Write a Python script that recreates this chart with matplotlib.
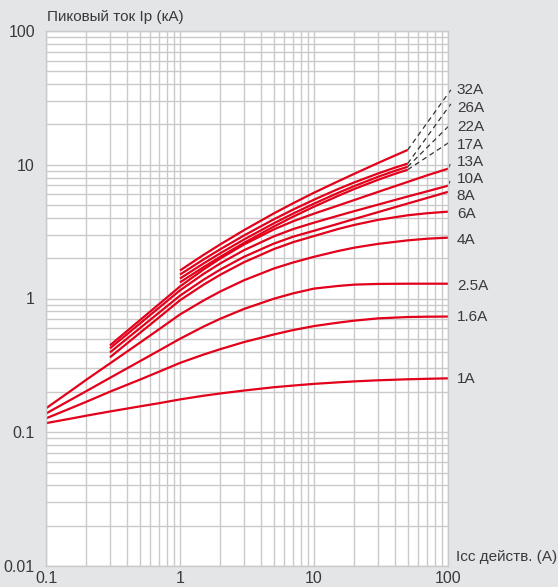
import matplotlib
matplotlib.use("Agg")
import matplotlib.pyplot as plt
from matplotlib.ticker import LogLocator, NullFormatter

plt.rcParams['font.family'] = ['Liberation Sans', 'DejaVu Sans']

# ---- data ----
x_full = [0.1, 0.15, 0.2, 0.3, 0.5, 0.7, 1, 1.5, 2, 3, 5, 7, 10, 15, 20, 30, 50, 70, 100]
x_mid = [0.3, 0.5, 0.7, 1, 1.5, 2, 3, 5, 7, 10, 15, 20, 30, 50, 70, 100]
x_high = [1, 1.5, 2, 3, 5, 7, 10, 15, 20, 30, 40, 50]

y_1A = [0.117, 0.126, 0.133, 0.143, 0.156, 0.165, 0.176, 0.1875, 0.195, 0.205, 0.217,
        0.2234, 0.230, 0.236, 0.240, 0.2446, 0.2489, 0.251, 0.253]
y_1_6A = [0.127, 0.150, 0.169, 0.201, 0.247, 0.284, 0.33, 0.381, 0.418, 0.472, 0.538,
          0.581, 0.622, 0.659, 0.683, 0.710, 0.727, 0.731, 0.733]
y_2_5A = [0.138, 0.173, 0.203, 0.255, 0.339, 0.409, 0.50, 0.617, 0.706, 0.835, 0.995,
          1.093, 1.186, 1.24, 1.27, 1.285, 1.29, 1.29, 1.29]
y_4A = [0.151, 0.201, 0.247, 0.327, 0.466, 0.590, 0.76, 0.967, 1.129, 1.368, 1.674,
        1.86, 2.05, 2.26, 2.40, 2.56, 2.72, 2.80, 2.85]

y_6A = [0.363, 0.551, 0.724, 0.97, 1.269, 1.506, 1.866, 2.338, 2.639, 2.93, 3.30,
        3.55, 3.87, 4.19, 4.34, 4.46]
y_8A = [0.395, 0.598, 0.786, 1.05, 1.382, 1.646, 2.048, 2.570, 2.90, 3.21, 3.61,
        3.93, 4.42, 5.13, 5.65, 6.27]
y_10A = [0.424, 0.647, 0.856, 1.15, 1.528, 1.830, 2.296, 2.911, 3.305, 3.69, 4.15,
         4.50, 5.03, 5.79, 6.33, 6.97]
y_13A = [0.446, 0.686, 0.910, 1.23, 1.649, 1.992, 2.532, 3.280, 3.784, 4.31, 4.94,
         5.45, 6.26, 7.44, 8.34, 9.34]

y_17A = [1.32, 1.717, 2.051, 2.603, 3.445, 4.093, 4.86, 5.83, 6.59, 7.71, 8.54, 9.18]
y_22A = [1.41, 1.829, 2.181, 2.76, 3.643, 4.318, 5.12, 6.14, 6.93, 8.12, 8.99, 9.66]
y_26A = [1.51, 1.96, 2.337, 2.958, 3.904, 4.627, 5.48, 6.56, 7.38, 8.60, 9.50, 10.2]
y_32A = [1.62, 2.12, 2.54, 3.24, 4.32, 5.16, 6.18, 7.49, 8.56, 10.3, 11.7, 12.9]

# dashed extensions (start point, end point)
dash_x = [[50, 105], [50, 105], [50, 105], [50, 104], [100, 105], [100, 105]]
dash_y = [[12.9, 36.3], [10.2, 28.5], [9.66, 20.2], [9.18, 14.9], [9.34, 10.3], [6.97, 7.86]]

labels = ['32A', '26A', '22A', '17A', '13A', '10A', '8A', '6A', '4A', '2.5A', '1.6A', '1A']
label_y = [36.0, 26.5, 19.3, 14.0, 10.4, 7.8, 5.8, 4.3, 2.75, 1.24, 0.73, 0.25]

x_ticks = [0.1, 1, 10, 100]
x_ticklabels = ['0.1', '1', '10', '100']
y_ticks = [0.01, 0.1, 1, 10, 100]
y_ticklabels = ['0.01', '0.1', '1', '10', '100']

# ---- figure ----
bg = '#e4e5e7'
red = '#e2001a'
txt = '#3a3a3a'
grid_c = '#cacaca'

fig = plt.figure(figsize=(5.58, 5.87), dpi=100, facecolor=bg)
ax = fig.add_axes([46 / 558, 21 / 587, 402 / 558, 535 / 587])
ax.set_facecolor('white')
ax.set_xscale('log')
ax.set_yscale('log')
ax.set_xlim(0.1, 100)
ax.set_ylim(0.01, 100)

ax.xaxis.set_minor_locator(LogLocator(base=10, subs=range(2, 10)))
ax.yaxis.set_minor_locator(LogLocator(base=10, subs=range(2, 10)))
ax.xaxis.set_minor_formatter(NullFormatter())
ax.yaxis.set_minor_formatter(NullFormatter())
ax.grid(True, which='both', color=grid_c, lw=1.0)
ax.set_axisbelow(True)
for s in ax.spines.values():
    s.set_color(grid_c)
    s.set_linewidth(1.0)

ax.set_xticks(x_ticks)
ax.set_xticklabels(x_ticklabels)
ax.set_yticks(y_ticks)
ax.set_yticklabels(y_ticklabels)
ax.tick_params(which='both', length=0, colors=txt, labelsize=11.5)
ax.tick_params(axis='x', pad=3.5)
ax.tick_params(axis='y', pad=8)

lw = 1.6
for ys in [y_1A, y_1_6A, y_2_5A, y_4A]:
    ax.plot(x_full, ys, color=red, lw=lw, solid_capstyle='butt', solid_joinstyle='round')
for ys in [y_6A, y_8A, y_10A, y_13A]:
    ax.plot(x_mid, ys, color=red, lw=lw, solid_capstyle='butt', solid_joinstyle='round')
for ys in [y_17A, y_22A, y_26A, y_32A]:
    ax.plot(x_high, ys, color=red, lw=lw, solid_capstyle='butt', solid_joinstyle='round')

for dx, dy in zip(dash_x, dash_y):
    ax.plot(dx, dy, color='#333333', lw=0.9, dashes=(4, 3), clip_on=False)

for lab, ly in zip(labels, label_y):
    ax.text(1.022, ly, lab, transform=ax.get_yaxis_transform(), color=txt,
            fontsize=11, va='center', ha='left')

fig.text(47 / 558, 1 - 17 / 587, 'Пиковый ток Ip (кА)', color=txt, fontsize=11,
         ha='left', va='center')
fig.text(456 / 558, 1 - 557 / 587, 'Icc действ. (A)', color=txt, fontsize=11,
         ha='left', va='center')

fig.savefig('out.png', dpi=100, facecolor=bg)
